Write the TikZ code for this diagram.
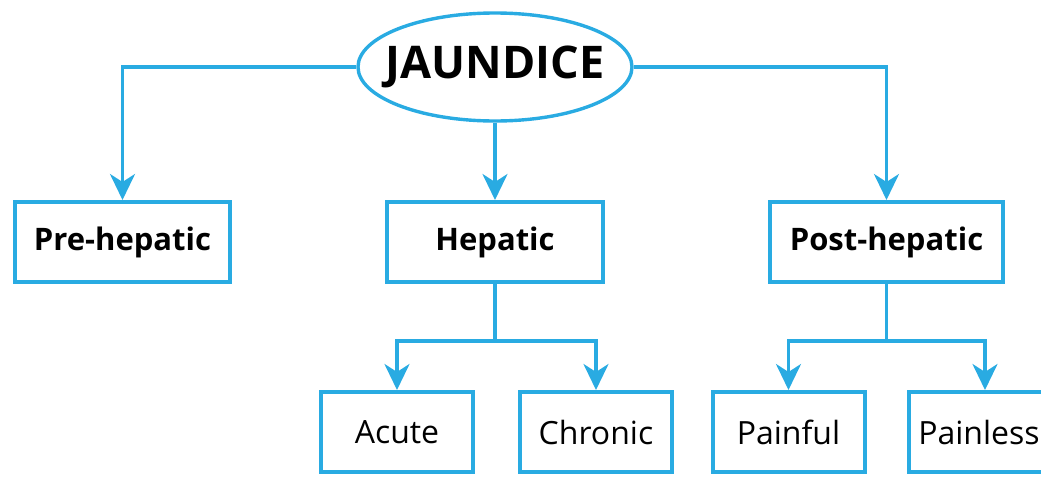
\documentclass[tikz,border=0pt]{standalone}
\usepackage{fontspec}
\setmainfont{Open Sans}
\usetikzlibrary{shapes.geometric,arrows.meta}
\definecolor{jblue}{RGB}{41,171,226}
\begin{document}
\begin{tikzpicture}[x=0.5pt,y=-0.5pt,
  link/.style={draw=jblue,line width=1.7pt},
  arr/.style={link,-{Stealth[length=13pt,width=12.5pt,inset=4pt]}},
  typebox/.style={draw=jblue,line width=2pt,minimum height=40pt,inner sep=0pt,font=\fontsize{15.5}{19}\selectfont\bfseries},
  subbox/.style={draw=jblue,line width=2pt,minimum width=76pt,minimum height=40pt,inner sep=0pt,font=\fontsize{16}{19}\selectfont}]
\useasboundingbox (0,0) rectangle (1041,477);
\clip (0,0) rectangle (1041,477);
% top of the tree
\node [ellipse,draw=jblue,line width=1.7pt,minimum width=137pt,minimum height=54pt,inner xsep=-8pt,inner ysep=0pt,font=\fontsize{22.5}{26}\selectfont\bfseries] (jaundice) at (495,67) {JAUNDICE};
% three kinds
\node [typebox,minimum width=107.5pt] (pre) at (122.5,242) {Pre-hepatic};
\node [typebox,minimum width=108pt] (hep) at (495,242) {Hepatic};
\node [typebox,minimum width=116.5pt] (post) at (886.5,242) {Post-hepatic};
% sub kinds
\node [subbox] (acute) at (397,432) {Acute};
\node [subbox] (chronic) at (596,432) {Chronic};
\node [subbox] (painful) at (788.5,432) {Painful};
\node [subbox] (painless) at (985,432) {Painless\hspace*{6pt}};
\draw [arr] (jaundice.west) -| (pre.north);
\draw [arr] (jaundice.south) -- (hep.north);
\draw [arr] (jaundice.east) -| (post.north);
\draw [link] (hep.south) -- ++(0,57) coordinate (hepsplit);
\draw [arr] (hepsplit) -| (acute.north);
\draw [arr] (hepsplit) -| (chronic.north);
\draw [link] (post.south) -- ++(0,57) coordinate (postsplit);
\draw [arr] (postsplit) -| (painful.north);
\draw [arr] (postsplit) -| (painless.north);
\end{tikzpicture}
\end{document}
